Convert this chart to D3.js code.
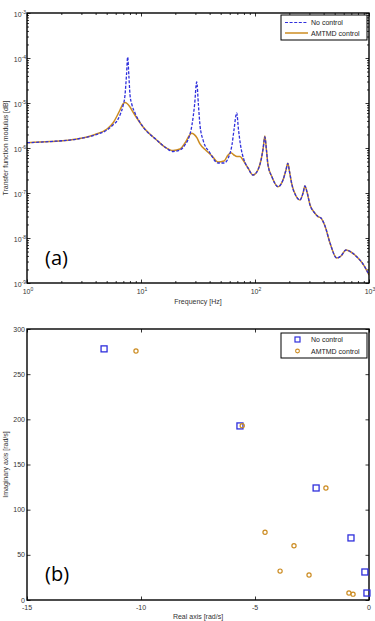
<!DOCTYPE html>
<html><head><meta charset="utf-8">
<script src="https://cdn.jsdelivr.net/npm/d3@7"></script>
<style>body{margin:0;background:#fff}svg{display:block}</style>
</head><body><svg id="c" width="375" height="621"></svg>
<script>
// ---------- data ----------
const seriesNames = ["No control", "AMTMD control"];
const freqNo = [1.00,1.59,2.75,3.95,5.03,5.68,6.16,6.54,6.95,7.24,7.46,7.64,7.82,8.01,8.34,8.86,10.4,13.7,16.2,19.1,22.0,24.3,26.4,28.0,29.5,30.8,31.9,32.9,35.0,40.3,47.4,53.5,59.2,62.8,65.4,69.1,71.7,74.6,80.1,86.8,96.0,106,113,118,122,126,130,141,159,176,187,194,201,211,229,248,264,274,286,304,329,357,379,411,455,521,568,628,695,785,886,1000];
const modNo = [1.31e-6,1.39e-6,1.58e-6,1.95e-6,2.51e-6,3.25e-6,3.98e-6,5.41e-6,8.58e-6,1.51e-5,4.19e-5,1.05e-4,4.19e-5,1.51e-5,9.03e-6,6.00e-6,2.97e-6,1.51e-6,1.05e-6,8.36e-7,9.03e-7,1.17e-6,1.76e-6,3.25e-6,9.03e-6,2.93e-5,9.03e-6,3.25e-6,1.51e-6,7.75e-7,4.64e-7,4.64e-7,6.64e-7,1.17e-6,2.51e-6,6.00e-6,2.51e-6,1.17e-6,5.41e-7,3.59e-7,2.51e-7,3.25e-7,5.41e-7,1.0e-6,1.76e-6,9.03e-7,4.19e-7,2.27e-7,1.38e-7,1.95e-7,3.25e-7,4.56e-7,2.93e-7,1.51e-7,8.58e-8,6.99e-8,1.0e-7,1.43e-7,1.05e-7,5.41e-8,3.78e-8,3.00e-8,2.78e-8,1.85e-8,7.75e-9,3.59e-9,3.98e-9,5.41e-9,4.89e-9,3.78e-9,2.64e-9,1.51e-9];
const freqAm = [1.00,1.59,2.75,3.95,5.03,5.68,6.16,6.54,6.95,7.24,7.54,8.01,8.51,10.4,13.7,16.2,19.1,22.0,24.3,26.4,27.8,29.2,31.0,32.9,37.2,42.0,47.4,53.5,58.0,61.6,65.4,69.5,73.9,78.5,86.8,96.0,106,113,118,122,126,130,141,159,176,187,194,201,211,229,248,264,274,286,304,329,357,379,411,455,521,568,628,695,785,886,1000];
const modAm = [1.31e-6,1.39e-6,1.58e-6,2.00e-6,2.64e-6,3.59e-6,5.14e-6,6.99e-6,9.50e-6,1.02e-5,9.75e-6,8.15e-6,6.31e-6,2.97e-6,1.51e-6,1.05e-6,8.80e-7,9.50e-7,1.29e-6,1.85e-6,2.12e-6,2.00e-6,1.67e-6,1.23e-6,8.80e-7,6.64e-7,4.89e-7,5.14e-7,6.99e-7,7.87e-7,6.99e-7,6.47e-7,6.47e-7,5.41e-7,3.59e-7,2.51e-7,3.25e-7,5.41e-7,1.0e-6,1.85e-6,9.03e-7,4.19e-7,2.27e-7,1.38e-7,1.95e-7,3.25e-7,4.56e-7,2.93e-7,1.51e-7,8.58e-8,6.99e-8,1.0e-7,1.43e-7,1.05e-7,5.41e-8,3.78e-8,3.00e-8,2.78e-8,1.85e-8,7.75e-9,3.59e-9,3.98e-9,5.41e-9,4.89e-9,3.78e-9,2.64e-9,1.51e-9];
const poleNoRe = [-11.62,-5.66,-2.32,-0.79,-0.18,-0.09];
const poleNoIm = [278,192.7,124,68.7,31,7.7];
const poleAmRe = [-10.22,-5.56,-1.89,-4.56,-3.29,-3.90,-2.63,-0.88,-0.70];
const poleAmIm = [275.7,193,124,75,60,32,27.7,7.7,6.5];
const freqTicks = [1,10,100,1000];
const modTicks = [1e-9,1e-8,1e-7,1e-6,1e-5,1e-4,1e-3];
const reTicks = [-15,-10,-5,0];
const imTicks = [0,50,100,150,200,250,300];

// ---------- styles ----------
const BLUE = "#2f2fdc", ORANGE = "#cc8c22";
const FONT = "Liberation Sans, Arial, sans-serif";
const svg = d3.select("#c");
const L = 27, R = 369;

function frame(x0,y0,x1,y1){
  svg.append("rect").attr("x",x0).attr("y",y0).attr("width",x1-x0).attr("height",y1-y0)
    .attr("fill","none").attr("stroke","#000").attr("stroke-width",1.4);
}
function ticks(g, axisFn, scale, vals, size, tx, ty){
  svg.append("g").attr("transform",`translate(${tx},${ty})`)
    .call(axisFn(scale).tickValues(vals).tickSizeInner(size).tickSizeOuter(0).tickFormat(""))
    .call(s=>s.select(".domain").remove())
    .call(s=>s.selectAll("line").attr("stroke","#000").attr("stroke-width",0.8));
}
function minorLog(lo,hi){const a=[];for(let e=lo;e<hi;e++)for(let m=2;m<10;m++)a.push(m*Math.pow(10,e));return a;}

// ---------- panel (a) ----------
const T0 = 13, B0 = 283;
const xA = d3.scaleLog().domain([1,1000]).range([L,R]);
const yA = d3.scaleLog().domain([1e-9,1e-3]).range([B0,T0]);
const xMin = minorLog(0,3), yMin = minorLog(-9,-3);
ticks(svg,d3.axisBottom,xA,freqTicks,-3.5,0,B0);
ticks(svg,d3.axisBottom,xA,xMin,-2,0,B0);
ticks(svg,d3.axisTop,xA,freqTicks,-3.5,0,T0);
ticks(svg,d3.axisTop,xA,xMin,-2,0,T0);
ticks(svg,d3.axisLeft,yA,modTicks,-3.5,L,0);
ticks(svg,d3.axisLeft,yA,yMin,-2,L,0);
ticks(svg,d3.axisRight,yA,modTicks,-3.5,R,0);
ticks(svg,d3.axisRight,yA,yMin,-2,R,0);

const lineA = d3.line().curve(d3.curveMonotoneX);
const clip = svg.append("clipPath").attr("id","clipA").append("rect").attr("x",L).attr("y",T0).attr("width",R-L).attr("height",B0-T0);
svg.append("path").attr("clip-path","url(#clipA)")
  .attr("d",lineA(freqAm.map((f,i)=>[xA(f),yA(modAm[i])])))
  .attr("fill","none").attr("stroke",ORANGE).attr("stroke-width",1.5);
svg.append("path").attr("clip-path","url(#clipA)")
  .attr("d",lineA(freqNo.map((f,i)=>[xA(f),yA(modNo[i])])))
  .attr("fill","none").attr("stroke",BLUE).attr("stroke-width",1.3).attr("stroke-dasharray","3,1.6");
frame(L,T0,R,B0);

function powLabel(x,y,exp,anchor){
  const t = svg.append("text").attr("x",x).attr("y",y).attr("text-anchor",anchor)
    .attr("font-family",FONT).attr("font-size",7).attr("fill","#333");
  t.append("tspan").text("10");
  t.append("tspan").attr("dy",-3).attr("font-size",5).text(exp);
}
freqTicks.forEach(v=>powLabel(xA(v)+1,294,String(Math.round(Math.log10(v))),"middle"));
modTicks.forEach(v=>powLabel(26,yA(v)+4,String(Math.round(Math.log10(v))),"end"));
svg.append("text").attr("x",(L+R)/2).attr("y",304).attr("text-anchor","middle")
  .attr("font-family",FONT).attr("font-size",7).attr("fill","#333").text("Frequency [Hz]");
svg.append("text").attr("transform",`translate(8,${(T0+B0)/2}) rotate(-90)`).attr("text-anchor","middle")
  .attr("font-family",FONT).attr("font-size",7).attr("fill","#333").text("Transfer function modulus [dB]");
svg.append("text").attr("x",45).attr("y",265).attr("font-family","Open Sans, sans-serif").attr("font-size",20).attr("fill","#000").text("(a)");

// legend a
svg.append("rect").attr("x",281).attr("y",15).attr("width",86).attr("height",25).attr("fill","#fff").attr("stroke","#000").attr("stroke-width",1);
svg.append("line").attr("x1",285).attr("x2",308).attr("y1",22.5).attr("y2",22.5).attr("stroke",BLUE).attr("stroke-width",1.2).attr("stroke-dasharray","3,1.6");
svg.append("line").attr("x1",285).attr("x2",308).attr("y1",33).attr("y2",33).attr("stroke",ORANGE).attr("stroke-width",1.5);
seriesNames.forEach((n,i)=>svg.append("text").attr("x",311).attr("y",25+i*10.5).attr("font-family",FONT).attr("font-size",7).attr("fill","#222").text(n));

// ---------- panel (b) ----------
const T1 = 329, B1 = 600;
const xB = d3.scaleLinear().domain([-15,0]).range([L,R]);
const yB = d3.scaleLinear().domain([0,300]).range([B1,T1]);
ticks(svg,d3.axisBottom,xB,reTicks,-3.5,0,B1);
ticks(svg,d3.axisTop,xB,reTicks,-3.5,0,T1);
ticks(svg,d3.axisLeft,yB,imTicks,-3.5,L,0);
ticks(svg,d3.axisRight,yB,imTicks,-3.5,R,0);
frame(L,T1,R,B1);
reTicks.forEach(v=>svg.append("text").attr("x",xB(v)).attr("y",610).attr("text-anchor","middle")
  .attr("font-family",FONT).attr("font-size",7).attr("fill","#333").text(v));
imTicks.forEach(v=>svg.append("text").attr("x",25).attr("y",yB(v)+2.5).attr("text-anchor","end")
  .attr("font-family",FONT).attr("font-size",7).attr("fill","#333").text(v));
svg.append("text").attr("x",(L+R)/2).attr("y",618.5).attr("text-anchor","middle")
  .attr("font-family",FONT).attr("font-size",7).attr("fill","#333").text("Real axis [rad/s]");
svg.append("text").attr("transform",`translate(8,${(T1+B1)/2}) rotate(-90)`).attr("text-anchor","middle")
  .attr("font-family",FONT).attr("font-size",7).attr("fill","#333").text("Imaginary axis [rad/s]");
svg.append("text").attr("x",45).attr("y",581).attr("font-family","Open Sans, sans-serif").attr("font-size",20).attr("fill","#000").text("(b)");

svg.append("g").selectAll("rect").data(poleNoRe.map((r,i)=>[r,poleNoIm[i]])).join("rect")
  .attr("x",d=>xB(d[0])-3).attr("y",d=>yB(d[1])-3).attr("width",6).attr("height",6)
  .attr("fill","none").attr("stroke",BLUE).attr("stroke-width",1.3);
svg.append("g").selectAll("circle").data(poleAmRe.map((r,i)=>[r,poleAmIm[i]])).join("circle")
  .attr("cx",d=>xB(d[0])).attr("cy",d=>yB(d[1])).attr("r",2.1)
  .attr("fill","none").attr("stroke",ORANGE).attr("stroke-width",1.2);

// legend b
svg.append("rect").attr("x",281).attr("y",333).attr("width",86).attr("height",25).attr("fill","#fff").attr("stroke","#000").attr("stroke-width",1);
svg.append("rect").attr("x",295).attr("y",337).attr("width",5).attr("height",5).attr("fill","none").attr("stroke",BLUE).attr("stroke-width",1.2);
svg.append("circle").attr("cx",297.5).attr("cy",351).attr("r",1.9).attr("fill","none").attr("stroke",ORANGE).attr("stroke-width",1.1);
seriesNames.forEach((n,i)=>svg.append("text").attr("x",311).attr("y",342+i*11.5).attr("font-family",FONT).attr("font-size",7).attr("fill","#222").text(n));
</script></body></html>
